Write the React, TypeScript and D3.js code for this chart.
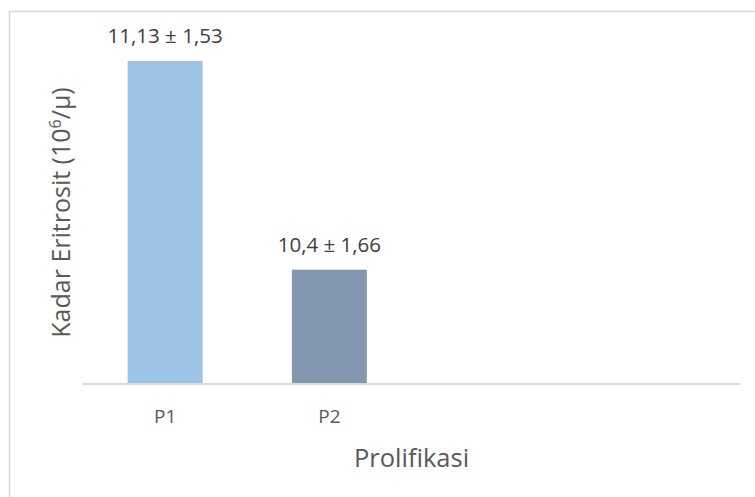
import React from "react";
import * as d3 from "d3";

const categories = ["P1", "P2", "", ""];
const means = [11.13, 10.4];
const labels = ["11,13 ± 1,53", "10,4 ± 1,66"];
const barColors = ["#9DC3E6", "#8497B0"];
const yDomain = [10, 11.2];
const xTitle = "Prolifikasi";

const W = 755;
const H = 497;
const FONT = "'Open Sans', 'Noto Sans', sans-serif";
const TEXT = "#595959";

export default function App() {
  const plot = { left: 83, right: 740, top: 41, bottom: 384 };
  const keys = categories.map((c, i) => c + "_" + i);
  const x = d3.scaleBand<string>().domain(keys).range([plot.left, plot.right]);
  const y = d3.scaleLinear().domain(yDomain).range([plot.bottom, plot.top]);
  const step = x.step();

  return (
    <svg
      width={W}
      height={H}
      style={{ position: "absolute", left: 0, top: 0, background: "#fff" }}
      fontFamily={FONT}
    >
      <rect x={0} y={0} width={W} height={H} fill="#fff" />
      <rect x={9.5} y={11.5} width={W + 20} height={H + 20} fill="none" stroke="#d9d9d9" strokeWidth={1.5} />
      {means.map((v, i) => {
        const k = keys[i];
        const cx = (x(k) as number) + step / 2;
        const bw = 75;
        return (
          <g key={k}>
            <rect x={cx - bw / 2} y={y(v)} width={bw} height={plot.bottom - y(v)} fill={barColors[i]} />
            <text x={cx} y={y(v) - 18} textAnchor="middle" fontSize={20.5} fill="#404040">
              {labels[i]}
            </text>
          </g>
        );
      })}
      <line x1={plot.left} x2={plot.right} y1={plot.bottom} y2={plot.bottom} stroke="#d9d9d9" strokeWidth={2} />
      {categories.map((c, i) =>
        c ? (
          <text key={i} x={(x(keys[i]) as number) + step / 2} y={423} textAnchor="middle" fontSize={19} fill={TEXT}>
            {c}
          </text>
        ) : null
      )}
      <text x={(plot.left + plot.right) / 2} y={467} textAnchor="middle" fontSize={25.5} fill={TEXT}>
        {xTitle}
      </text>
      <text
        transform={`translate(70, ${(plot.top + plot.bottom) / 2}) rotate(-90)`}
        textAnchor="middle"
        fontSize={25}
        fill={TEXT}
      >
        Kadar Eritrosit (10<tspan dy={-9} fontSize={16}>6</tspan>
        <tspan dy={9}>/µ)</tspan>
      </text>
    </svg>
  );
}
